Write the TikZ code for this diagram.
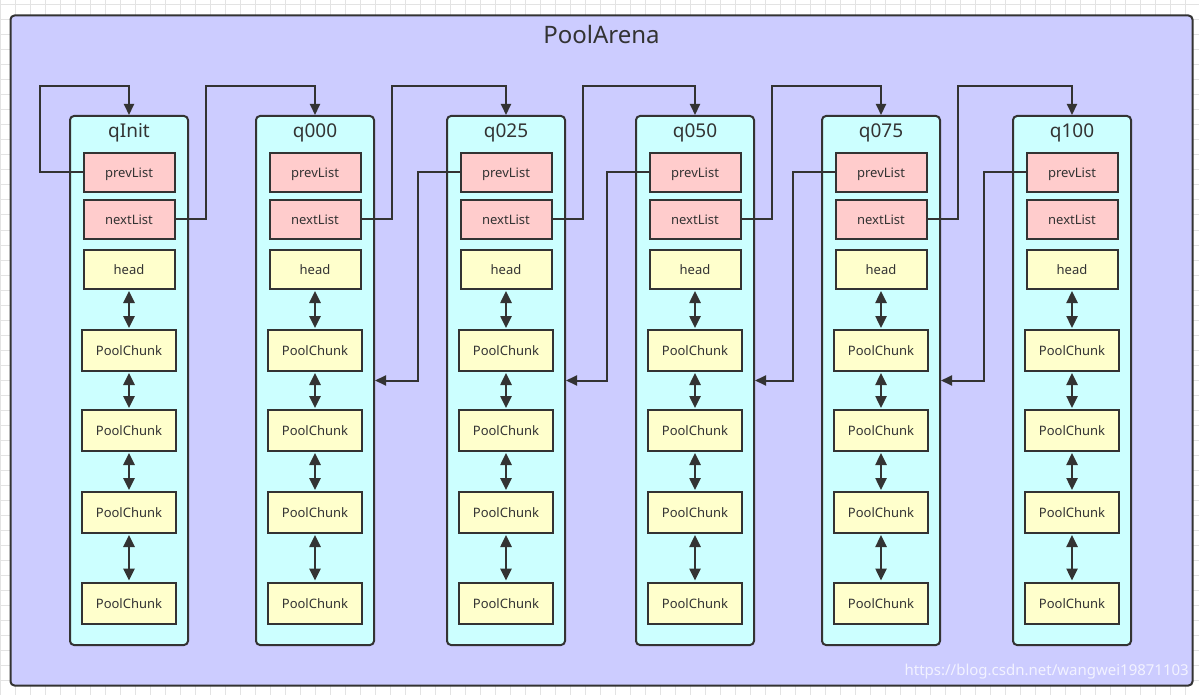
\documentclass[tikz,border=0pt]{standalone}
\usepackage{fontspec}
\setmainfont{Noto Sans}
\usetikzlibrary{arrows.meta}
\definecolor{arena}{HTML}{CCCCFF}
\definecolor{colfill}{HTML}{CCFFFF}
\definecolor{pinkfill}{HTML}{FFCCCC}
\definecolor{yelfill}{HTML}{FFFFCC}
\definecolor{ink}{HTML}{333333}
\definecolor{gridc}{HTML}{E3E3E3}
\tikzset{
  colbox/.style={draw=ink, fill=colfill, line width=2pt, rounded corners=4pt, minimum width=118pt, minimum height=529pt, inner sep=0pt},
  coltitle/.style={text=ink, font=\fontsize{19}{22}\selectfont, inner sep=0pt},
  boxtext/.style={text=ink, font=\fontsize{13}{15}\selectfont, text height=12pt, text depth=1.2pt, inner sep=0pt},
  pinkbox/.style={draw=ink, fill=pinkfill, line width=2pt, minimum width=91pt, minimum height=39pt, boxtext},
  headbox/.style={draw=ink, fill=yelfill, line width=2pt, minimum width=91pt, minimum height=39pt, boxtext},
  chunkbox/.style={draw=ink, fill=yelfill, line width=2pt, minimum width=94pt, minimum height=41pt, boxtext},
  conn/.style={draw=ink, line width=2pt, -{Triangle[length=11pt,width=10pt]}},
  dbl/.style={draw=ink, line width=2.5pt, {Triangle[length=12pt,width=11pt]}-{Triangle[length=12pt,width=11pt]}, shorten <=1pt, shorten >=1pt}
}
\begin{document}
\begin{tikzpicture}[x=1pt,y=-1pt]
\useasboundingbox (0,0) rectangle (1199,695);
\fill[white] (0,0) rectangle (1199,695);
\foreach \gx in {0,15,...,1199} {\draw[gridc, line width=1pt] (\gx,0) -- (\gx,695);}
\foreach \gy in {5,20,...,695} {\draw[gridc, line width=1pt] (0,\gy) -- (1199,\gy);}
\node[draw=ink, fill=arena, line width=2pt, rounded corners=4pt, minimum width=1182pt, minimum height=670pt, inner sep=0pt] (arena) at (601.5,350.5) {};
\node[text=ink, font=\fontsize{24}{28}\selectfont, inner sep=0pt] (arenatitle) at (601.5,34.5) {PoolArena};
\foreach \i/\cx/\lab in {0/129/qInit,1/315/q000,2/506/q025,3/695/q050,4/881/q075,5/1072/q100} {
  \node[colbox] (col\i) at (\cx,380.5) {};
  \node[coltitle] (t\i) at (\cx,133) {\lab};
  \node[pinkbox] (prev\i) at (\cx,172.5) {prevList};
  \node[pinkbox] (next\i) at (\cx,219.5) {nextList};
  \node[headbox] (head\i) at (\cx,269.5) {head};
  \node[chunkbox] (pa\i) at (\cx,350.5) {PoolChunk};
  \node[chunkbox] (pb\i) at (\cx,430.5) {PoolChunk};
  \node[chunkbox] (pc\i) at (\cx,512.5) {PoolChunk};
  \node[chunkbox] (pd\i) at (\cx,603) {PoolChunk};
  \draw[dbl] (head\i) -- (pa\i);
  \draw[dbl] (pa\i) -- (pb\i);
  \draw[dbl] (pb\i) -- (pc\i);
  \draw[dbl] (pc\i) -- (pd\i);
}
% qInit self loop
\draw[conn] (prev0.west) -| (40,86) -| (col0.north);
% next links
\foreach \i/\j in {0/1,1/2,2/3,3/4,4/5} {
  \draw[conn] (next\i.east) -| ++(30,-133.5) -| (col\j.north);
}
% prev links
\foreach \j/\i in {2/1,3/2,4/3,5/4} {
  \draw[conn] (prev\j.west) -- ++(-42,0) |- (col\i.east);
}
\node[anchor=east, text=white, opacity=0.75, font=\fontsize{15}{17}\selectfont, inner sep=0pt] (wm) at (1189,672) {https://blog.csdn.net/wangwei19871103};
\end{tikzpicture}
\end{document}
